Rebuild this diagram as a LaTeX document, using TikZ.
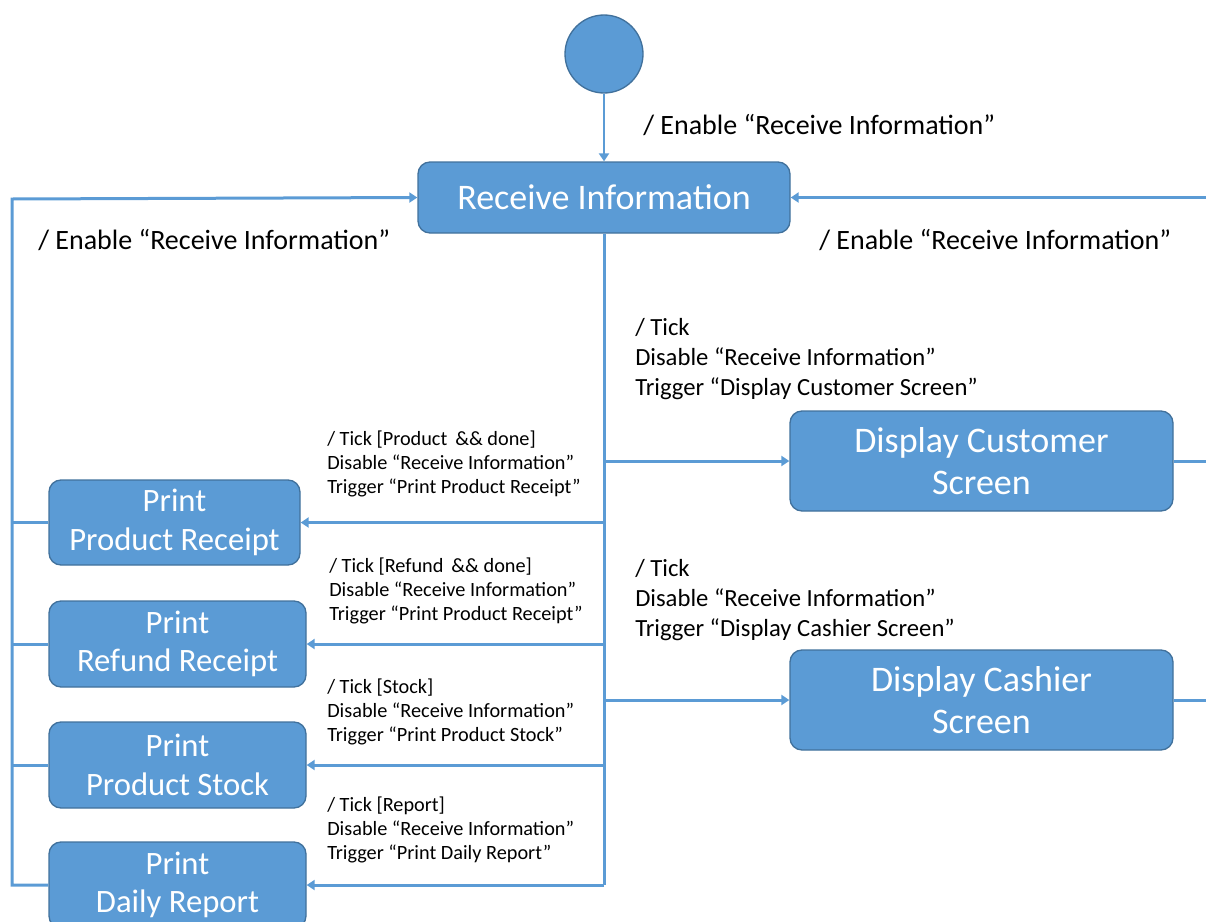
\documentclass[tikz,border=0pt]{standalone}
\usepackage{fontspec}
\setmainfont{Carlito}
\usetikzlibrary{arrows.meta}
\definecolor{stfill}{HTML}{5B9BD5}
\definecolor{stline}{HTML}{41719C}

\begin{document}
\begin{tikzpicture}[x=0.75pt, y=-0.75pt,
        state/.style = {draw=stline, line width=1pt, fill=stfill, rounded corners=9pt,
                        text=white, align=center, inner sep=0pt},
        bigtxt/.style = {font=\fontsize{27}{31.5}\selectfont},
        prttxt/.style = {font=\fontsize{24.5}{29}\selectfont},
        flow/.style = {draw=stfill, line width=2.25pt},
        tip/.style = {-{Triangle[length=6pt, width=7.5pt]}},
        midlbl/.style = {anchor=west, inner sep=0pt, align=left, font=\fontsize{18.5}{22.5}\selectfont},
        smalllbl/.style = {anchor=west, inner sep=0pt, align=left, font=\fontsize{15.2}{18}\selectfont},
        biglbl/.style = {anchor=west, inner sep=0pt, font=\fontsize{21}{25}\selectfont}]
        \useasboundingbox (0,0) rectangle (1206,921);

        \node[circle, draw=stline, line width=1pt, fill=stfill, minimum size=58.5pt, inner sep=0pt] (init) at (604,54) {};
        \node[state, bigtxt, minimum width=279pt, minimum height=53.25pt] (recv) at (604,197.5) {Receive Information};
        \node[state, bigtxt, minimum width=287.25pt, minimum height=75pt] (cust) at (981.5,461) {Display Customer\\Screen};
        \node[state, bigtxt, minimum width=287.25pt, minimum height=75pt] (cash) at (981.5,700) {Display Cashier\\Screen};
        \node[state, prttxt, minimum width=188.25pt, minimum height=63.75pt] (prodrec) at (174.5,522.5) {Print\\Product Receipt};
        \node[state, prttxt, minimum width=192.75pt, minimum height=64.5pt] (refrec) at (177.5,644) {Print\\Refund Receipt};
        \node[state, prttxt, minimum width=192.75pt, minimum height=64.5pt] (stock) at (177.5,765) {Print\\Product Stock};
        \node[state, prttxt, minimum width=192.75pt, minimum height=64.5pt] (report) at (177.5,885) {Print\\Daily Report};

        % loop ends
        \coordinate (lft) at (12,199);
        \coordinate (rgt) at (1220,196);

        % start
        \draw[flow, line width=1.5pt, tip] (init) -- (recv);
        \node[biglbl] (lblinit) at (643,125) {/ Enable “Receive Information”};

        % trunk and branches
        \draw[flow] (recv.south) -- (recv.south |- report.east);
        \draw[flow, tip] (recv.south |- cust.west) -- (cust.west);
        \draw[flow, tip] (recv.south |- cash.west) -- (cash.west);
        \draw[flow, tip] (recv.south |- prodrec.east) -- (prodrec.east);
        \draw[flow, tip] (recv.south |- refrec.east) -- (refrec.east);
        \draw[flow, tip] (recv.south |- stock.east) -- (stock.east);
        \draw[flow, tip] (recv.south |- report.east) -- (report.east);

        % back to receive
        \draw[flow, tip] (report.west) -| (lft) -- (recv.west);
        \draw[flow] (prodrec.west) -- (prodrec.west -| lft);
        \draw[flow] (refrec.west) -- (refrec.west -| lft);
        \draw[flow] (stock.west) -- (stock.west -| lft);
        \draw[flow, tip] (cash.east) -| (rgt |- recv.east) -- (recv.east);
        \draw[flow] (cust.east) -- (cust.east -| rgt);

        \node[biglbl] (lblleft) at (38,240) {/ Enable “Receive Information”};
        \node[biglbl] (lblright) at (819,240) {/ Enable “Receive Information”};

        \node[midlbl] (lblcust) at (635,359) {/ Tick\\Disable “Receive Information”\\Trigger “Display Customer Screen”};
        \node[midlbl] (lblcash) at (635,600) {/ Tick\\Disable “Receive Information”\\Trigger “Display Cashier Screen”};

        \node[smalllbl] (lblprod) at (327,464) {/ Tick [Product \,\&\& done]\\Disable “Receive Information”\\Trigger “Print Product Receipt”};
        \node[smalllbl] (lblref) at (329,591) {/ Tick [Refund \,\&\& done]\\Disable “Receive Information”\\Trigger “Print Product Receipt”};
        \node[smalllbl] (lblstock) at (327,712) {/ Tick [Stock]\\Disable “Receive Information”\\Trigger “Print Product Stock”};
        \node[smalllbl] (lblrep) at (327,830) {/ Tick [Report]\\Disable “Receive Information”\\Trigger “Print Daily Report”};
\end{tikzpicture}
\end{document}
